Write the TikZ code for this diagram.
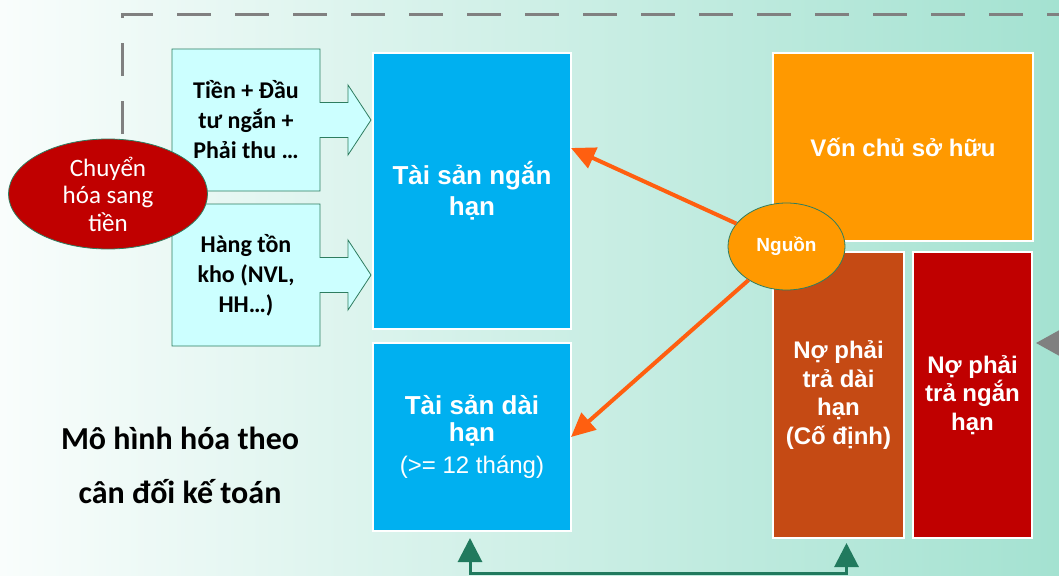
\documentclass[tikz,border=0pt]{standalone}
\usepackage{fontspec}
\setmainfont{Liberation Sans}
\newfontfamily\calibri{Carlito}
\usetikzlibrary{positioning,arrows.meta,shapes.geometric,calc,backgrounds}

\definecolor{bgleft}{HTML}{F9FDFC}
\definecolor{bgright}{HTML}{A4E2D1}
\definecolor{calloutfill}{HTML}{CCFFFF}
\definecolor{edgegreen}{HTML}{2E7D60}
\definecolor{assetblue}{HTML}{00B0F0}
\definecolor{equityorange}{HTML}{FF9900}
\definecolor{debtrust}{HTML}{C54A14}
\definecolor{debtred}{HTML}{C00000}
\definecolor{flowarrow}{HTML}{FF5F10}
\definecolor{linkgreen}{HTML}{217A5E}
\definecolor{dashgray}{HTML}{808080}

\tikzset{
  block/.style={rectangle,draw=white,line width=1.5pt,text=white,align=center,
    inner sep=0pt,outer sep=0pt,font=\bfseries\fontsize{24}{28.5}\selectfont},
  asset/.style={block,fill=assetblue,minimum width=198pt},
  callbox/.style={rectangle,align=center,minimum width=148pt,minimum height=142pt,
    inner sep=0pt,outer sep=0pt,font=\calibri\bfseries\fontsize{24}{30}\selectfont},
  calloutline/.style={draw=edgegreen,line width=0.8pt,fill=calloutfill,line join=miter},
  bubble/.style={ellipse,draw=edgegreen,line width=0.8pt,text=white,align=center,inner sep=0pt},
  flow/.style={draw=flowarrow,line width=4pt,-{Triangle[length=24pt,width=22pt]}},
  bothway/.style={draw=linkgreen,line width=3pt,
    {Triangle[length=24pt,width=24pt]}-{Triangle[length=24pt,width=24pt]}},
  dashline/.style={draw=dashgray,line width=3pt,dash pattern=on 33.5pt off 24.5pt,
    dash phase=53pt,-{Triangle[length=26pt,width=28pt]}}
}

% right arrow callout round a named box
\newcommand\callout[1]{%
  \path[calloutline] (#1.north west) -- (#1.north east) -- ($(#1.east)+(0,-17.5)$)
    -- ++(28,0) -- ++(0,-17.5) -- ($(#1.east)+(51,0)$) -- ($(#1.east)+(28,35)$)
    -- ++(0,-17.5) -- ($(#1.east)+(0,17.5)$) -- (#1.south east) -- (#1.south west) -- cycle;}

\begin{document}
\begin{tikzpicture}[x=1pt,y=-1pt]
\useasboundingbox (0,0) rectangle (1059,575);

% assets
\node (tsnh) [asset,minimum height=276pt,font=\bfseries\fontsize{26}{31}\selectfont] at (472,191) {Tài sản ngắn\\hạn};
\node (tsdh) [asset,minimum height=188pt,below=14pt of tsnh,font=\bfseries\fontsize{26}{27}\selectfont]
  {Tài sản dài\\hạn\\[5pt]{\mdseries\fontsize{24}{27}\selectfont(>= 12 tháng)}};

% sources
\node (von) [block,fill=equityorange,minimum width=260pt,minimum height=188pt] at (903,147) {Vốn chủ sở hữu};
\node (ndh) [block,fill=debtrust,minimum width=131pt,minimum height=286pt] at (838.5,395) {Nợ phải\\trả dài\\hạn\\(Cố định)};
\node (nngan) [block,fill=debtred,minimum width=119pt,minimum height=286pt,right=9pt of ndh] {Nợ phải\\trả ngắn\\hạn};

% current asset parts
\node (tien) [callbox] at (246,120) {Tiền + Đầu\\tư ngắn +\\Phải thu …};
\node (kho) [callbox,below=13pt of tien] {Hàng tồn\\kho (NVL,\\HH…)};

\node (chuyen) [bubble,fill=debtred,minimum width=199pt,minimum height=110pt,
  font=\calibri\fontsize{25}{27.5}\selectfont] at (108,194) {Chuyển\\hóa sang\\tiền};
\node (nguon) [bubble,fill=equityorange,minimum width=117pt,minimum height=87pt,
  font=\bfseries\fontsize{19}{22}\selectfont] at (786.5,246.5) {Nguồn};

\node (title) [align=center,font=\calibri\bfseries\fontsize{32}{54}\selectfont] at (180,465)
  {Mô hình hóa theo\\cân đối kế toán};

\coordinate (corner) at (1060,15);

\draw[flow] (nguon) -- ($(tsnh.east)+(0,-43)$);
\draw[flow] (nguon) -- (tsdh.east);
\draw[bothway,shorten <=7pt,shorten >=5pt] ($(tsdh.south)+(-2,0)$) -- ++(0,42) -| ($(ndh.south)+(8,0)$);
\draw[dashline,shorten >=4pt] (chuyen.75) |- (corner) |- ($(nngan.east)+(0,-52)$);

\begin{scope}[on background layer]
  \shade[left color=bgleft,right color=bgright] (0,0) rectangle (1059,575);
  \callout{tien}
  \callout{kho}
\end{scope}
\end{tikzpicture}
\end{document}
